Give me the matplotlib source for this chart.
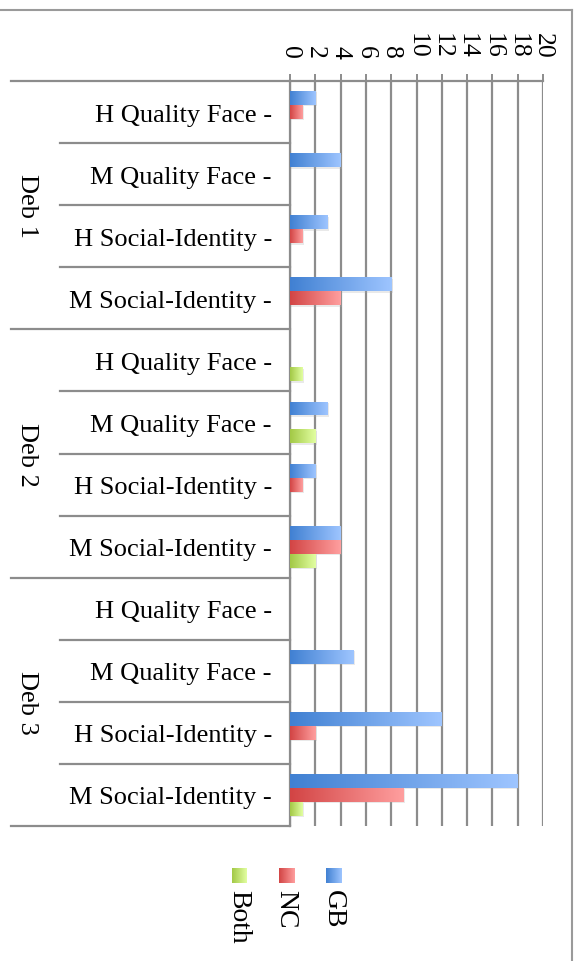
import matplotlib
matplotlib.use("Agg")
import matplotlib.pyplot as plt
import matplotlib.patheffects as pe
import numpy as np
from matplotlib.colors import LinearSegmentedColormap
from matplotlib.lines import Line2D
from matplotlib.transforms import blended_transform_factory

# data
groups = ["Deb 1", "Deb 2", "Deb 3"]
categories = ["H Quality Face", "M Quality Face", "H Social-Identity", "M Social-Identity"] * 3
series = ["GB", "NC", "Both"]
gb = [2, 4, 3, 8, 0, 3, 2, 4, 0, 5, 12, 18]
nc = [1, 0, 1, 4, 0, 0, 1, 4, 0, 0, 2, 9]
both = [0, 0, 0, 0, 1, 2, 0, 2, 0, 0, 0, 1]
x_ticks = np.arange(0, 21, 2)

plt.rcParams["font.family"] = ["Liberation Serif", "DejaVu Serif"]

GRID = "#8c8c8c"
grads = {
    "GB": LinearSegmentedColormap.from_list("gb", ["#4080d2", "#9ec5ff"]),
    "NC": LinearSegmentedColormap.from_list("nc", ["#d24444", "#ff9f9f"]),
    "Both": LinearSegmentedColormap.from_list("both", ["#a2c845", "#e2ffa2"]),
}
ramp = np.linspace(0, 1, 256).reshape(1, -1)

W, H = 581, 962
fig = plt.figure(figsize=(W / 100, H / 100), dpi=100)
ax = fig.add_axes([290 / W, 1 - 827 / H, 253 / W, 745 / H])

n = len(categories)
y = np.arange(n)
bar_h = 0.225
offsets = [-bar_h, 0.0, bar_h]
for name, vals, off in zip(series, [gb, nc, both], offsets):
    bars = ax.barh(y + off, vals, height=bar_h, color=grads[name](0.5), zorder=3, linewidth=0)
    for bar, v in zip(bars, vals):
        if v <= 0:
            bar.set_visible(False)
            continue
        bar.set_path_effects([pe.SimplePatchShadow(offset=(1, -1), shadow_rgbFace="#aaaaaa", alpha=0.25),
                              pe.Normal()])
        yc = bar.get_y()
        im = ax.imshow(ramp, cmap=grads[name], aspect="auto", interpolation="bicubic",
                       extent=(0, v, yc + bar_h, yc), zorder=4)
        im.set_clip_path(bar)

ax.set_xlim(0, 20)
ax.set_ylim(n - 0.5, -0.5)
ax.set_axisbelow(True)
ax.grid(axis="x", color=GRID, linewidth=1.6)
ax.grid(axis="y", visible=False)

ax.xaxis.tick_top()
ax.set_xticks(x_ticks)
ax.set_xticklabels([str(t) for t in x_ticks], rotation=-90, fontsize=18.5)
ax.tick_params(axis="x", length=5, width=1.4, color=GRID, pad=12)

ax.set_yticks(y)
ax.set_yticklabels([c + " -" for c in categories], fontsize=19)
ax.tick_params(axis="y", length=0, pad=13)

for side in ["right", "bottom"]:
    ax.spines[side].set_visible(False)
for side in ["top", "left"]:
    ax.spines[side].set_color(GRID)
    ax.spines[side].set_linewidth(1.6)

# category separators and group labels
tr = blended_transform_factory(fig.transFigure, ax.transData)
for b in np.arange(-0.5, n, 1.0):
    x0 = 11 / W if (b + 0.5) % 4 == 0 else 60 / W
    ax.add_line(Line2D([x0, 290 / W], [b, b], transform=tr, color=GRID, lw=1.6, clip_on=False))
for i, g in enumerate(groups):
    ax.text(27 / W, i * 4 + 1.5, g, transform=tr, rotation=-90, ha="center", va="center", fontsize=19)

# chart border
fig.add_artist(Line2D([0, 572 / W], [1 - 11 / H, 1 - 11 / H], color="#9a9a9a", lw=1.5))
fig.add_artist(Line2D([572 / W, 572 / W], [1 - 11 / H, 0], color="#9a9a9a", lw=1.5))

# legend
for k, name in enumerate(series):
    cx = 333 - 47 * k
    lax = fig.add_axes([(cx - 7) / W, 1 - 884 / H, 15 / W, 15 / H])
    lax.imshow(ramp, cmap=grads[name], aspect="auto", interpolation="bicubic")
    lax.axis("off")
    fig.text(cx / W, 1 - 890 / H, name, rotation=-90, ha="center", va="top", fontsize=20)

fig.savefig("out.png", dpi=100)
